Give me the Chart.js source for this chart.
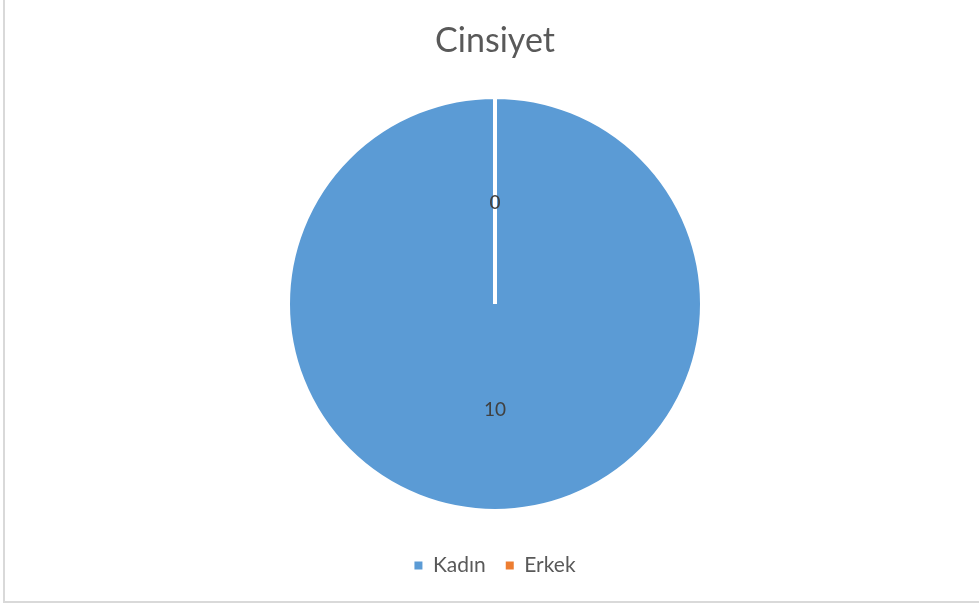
<!DOCTYPE html>
<html>
<head>
<meta charset="utf-8">
<script src="https://cdn.jsdelivr.net/npm/chart.js@4"></script>
<style>
  html, body { margin: 0; padding: 0; background: #ffffff; }
  #wrap { width: 979px; height: 607px; position: relative; }
</style>
</head>
<body>
<div id="wrap"><canvas id="c" width="979" height="607"></canvas></div>
<script>
const categories = ['Kadın', 'Erkek'];
const values = [10, 0];
const colors = ['#5B9BD5', '#ED7D31'];
const chartTitle = 'Cinsiyet';

const frame = {
  id: 'frame',
  beforeDraw(chart) {
    const ctx = chart.ctx;
    ctx.save();
    ctx.fillStyle = '#ffffff';
    ctx.fillRect(0, 0, chart.width, chart.height);
    ctx.fillStyle = '#d9d9d9';
    ctx.fillRect(3, 0, 2, 603);
    ctx.fillRect(3, 601, 976, 2);
    ctx.restore();
  }
};

const dataLabels = {
  id: 'dataLabels',
  afterDatasetsDraw(chart) {
    const ctx = chart.ctx;
    const meta = chart.getDatasetMeta(0);
    ctx.save();
    ctx.font = '19px Lato';
    ctx.fillStyle = '#404040';
    ctx.textAlign = 'center';
    ctx.textBaseline = 'middle';
    meta.data.forEach((arc, i) => {
      const p = arc.tooltipPosition();
      ctx.fillText(String(values[i]), p.x, p.y + 2);
    });
    ctx.restore();
  }
};

new Chart(document.getElementById('c'), {
  type: 'pie',
  data: {
    labels: categories,
    datasets: [{
      data: values,
      backgroundColor: colors,
      borderColor: '#ffffff',
      borderWidth: 4,
      radius: 207
    }]
  },
  options: {
    responsive: false,
    devicePixelRatio: 1,
    animation: false,
    layout: { padding: { left: 11, right: 0, top: 0, bottom: 21 } },
    plugins: {
      title: {
        display: true,
        text: chartTitle,
        color: '#595959',
        font: { family: 'Lato', size: 34, weight: 'normal' },
        padding: { top: 21, bottom: 11 }
      },
      legend: {
        position: 'bottom',
        labels: {
          color: '#595959',
          font: { family: 'Lato', size: 21 },
          boxWidth: 8,
          boxHeight: 8,
          padding: 20,
          generateLabels(chart) {
            return categories.map((name, i) => ({
              text: name,
              fillStyle: colors[i],
              strokeStyle: colors[i],
              lineWidth: 0,
              fontColor: '#595959',
              hidden: false,
              index: i
            }));
          }
        }
      },
      tooltip: { enabled: false }
    }
  },
  plugins: [frame, dataLabels]
});
</script>
</body>
</html>
